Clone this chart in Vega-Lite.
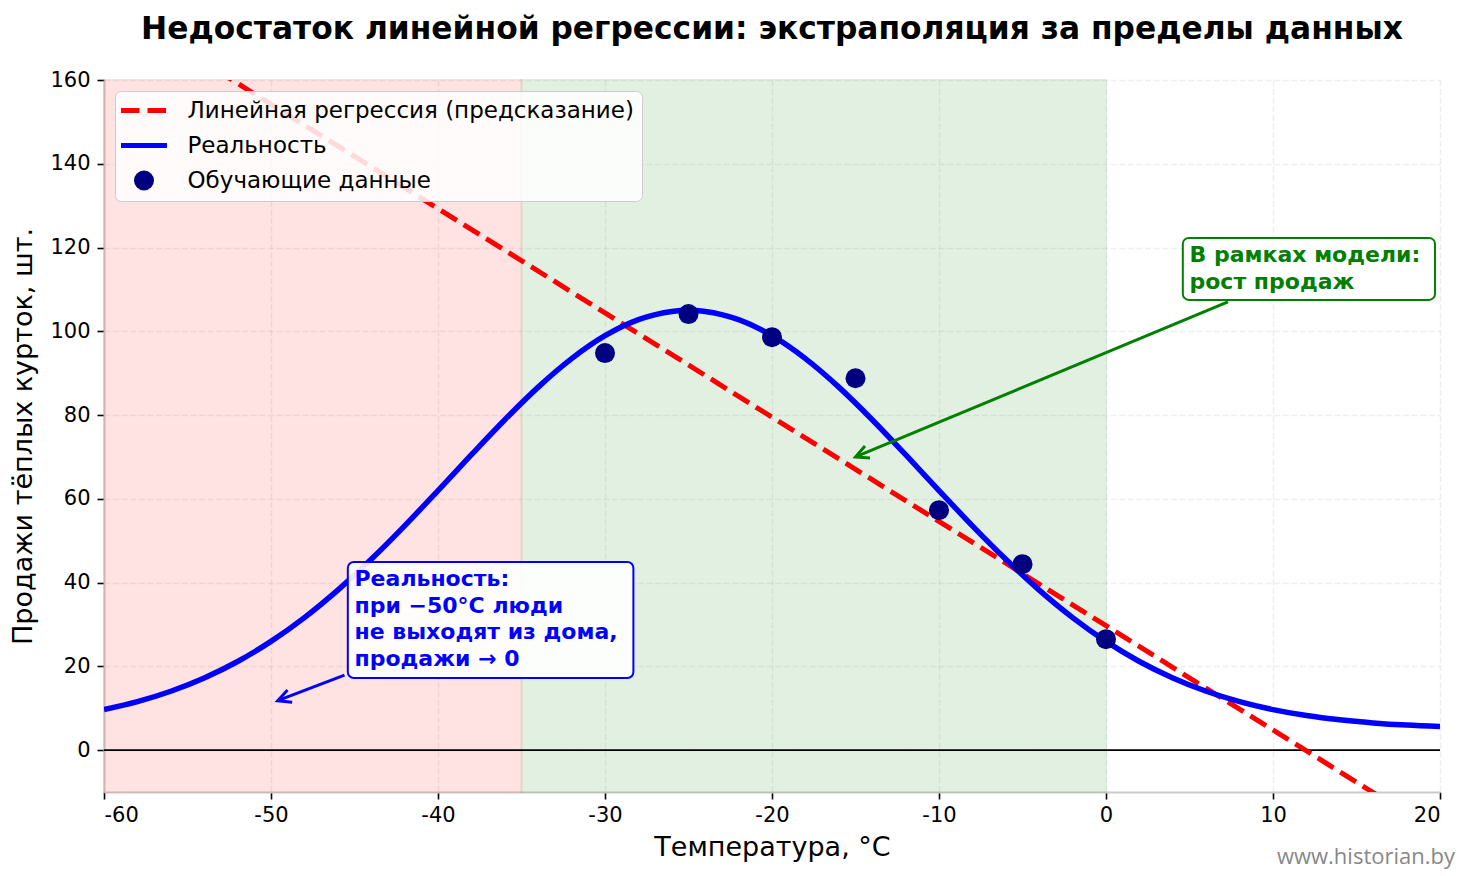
{
  "$schema": "https://vega.github.io/schema/vega-lite/v6.json",
  "autosize": {"type": "none"},
  "width": 1336,
  "height": 712,
  "padding": {"left": 104, "top": 80, "right": 27, "bottom": 84},
  "background": "white",
  "title": {
    "text": "Недостаток линейной регрессии: экстраполяция за пределы данных",
    "font": "DejaVu Sans",
    "fontSize": 31.3,
    "fontWeight": "bold",
    "color": "#000000",
    "anchor": "middle",
    "offset": 24
  },
  "config": {
    "view": {"stroke": null},
    "axis": {
      "labelFont": "DejaVu Sans",
      "titleFont": "DejaVu Sans",
      "labelFontSize": 21,
      "titleFontSize": 27,
      "titleFontWeight": "normal",
      "labelColor": "#000000",
      "titleColor": "#000000",
      "domainColor": "#cccccc",
      "domainWidth": 2,
      "tickColor": "#000000",
      "tickSize": 7,
      "tickWidth": 1.6,
      "grid": true,
      "gridColor": "#b0b0b0",
      "gridOpacity": 0.2,
      "gridWidth": 1.5,
      "gridDash": [6, 2.6]
    },
    "legend": {
      "labelFont": "DejaVu Sans",
      "labelFontSize": 23,
      "labelColor": "#000000",
      "labelLimit": 0
    }
  },
  "datasets": {
    "zones": [
      {"zone": "extrapolation", "from": -60, "to": -35},
      {"zone": "model", "from": -35, "to": 0}
    ],
    "regression": [
      {"t": -60, "sales": 179.1, "series": "Линейная регрессия (предсказание)"},
      {"t": -40, "sales": 129.3, "series": "Линейная регрессия (предсказание)"},
      {"t": -20, "sales": 79.5, "series": "Линейная регрессия (предсказание)"},
      {"t": 0, "sales": 29.7, "series": "Линейная регрессия (предсказание)"},
      {"t": 20, "sales": -20.1, "series": "Линейная регрессия (предсказание)"}
    ],
    "reality": [
      {"t": -60, "sales": 9.68, "series": "Реальность"},
      {"t": -58, "sales": 11.57, "series": "Реальность"},
      {"t": -56, "sales": 14.05, "series": "Реальность"},
      {"t": -54, "sales": 17.22, "series": "Реальность"},
      {"t": -52, "sales": 21.16, "series": "Реальность"},
      {"t": -50, "sales": 25.96, "series": "Реальность"},
      {"t": -48, "sales": 31.65, "series": "Реальность"},
      {"t": -46, "sales": 38.21, "series": "Реальность"},
      {"t": -44, "sales": 45.56, "series": "Реальность"},
      {"t": -42, "sales": 53.55, "series": "Реальность"},
      {"t": -40, "sales": 61.98, "series": "Реальность"},
      {"t": -38, "sales": 70.54, "series": "Реальность"},
      {"t": -36, "sales": 78.89, "series": "Реальность"},
      {"t": -34, "sales": 86.67, "series": "Реальность"},
      {"t": -32, "sales": 93.47, "series": "Реальность"},
      {"t": -30, "sales": 98.94, "series": "Реальность"},
      {"t": -28, "sales": 102.78, "series": "Реальность"},
      {"t": -26, "sales": 104.75, "series": "Реальность"},
      {"t": -25, "sales": 105.0, "series": "Реальность"},
      {"t": -24, "sales": 104.75, "series": "Реальность"},
      {"t": -22, "sales": 102.78, "series": "Реальность"},
      {"t": -20, "sales": 98.94, "series": "Реальность"},
      {"t": -18, "sales": 93.47, "series": "Реальность"},
      {"t": -16, "sales": 86.67, "series": "Реальность"},
      {"t": -14, "sales": 78.89, "series": "Реальность"},
      {"t": -12, "sales": 70.54, "series": "Реальность"},
      {"t": -10, "sales": 61.98, "series": "Реальность"},
      {"t": -8, "sales": 53.55, "series": "Реальность"},
      {"t": -6, "sales": 45.56, "series": "Реальность"},
      {"t": -4, "sales": 38.21, "series": "Реальность"},
      {"t": -2, "sales": 31.65, "series": "Реальность"},
      {"t": 0, "sales": 25.96, "series": "Реальность"},
      {"t": 2, "sales": 21.16, "series": "Реальность"},
      {"t": 4, "sales": 17.22, "series": "Реальность"},
      {"t": 6, "sales": 14.05, "series": "Реальность"},
      {"t": 8, "sales": 11.57, "series": "Реальность"},
      {"t": 10, "sales": 9.68, "series": "Реальность"},
      {"t": 12, "sales": 8.26, "series": "Реальность"},
      {"t": 14, "sales": 7.23, "series": "Реальность"},
      {"t": 16, "sales": 6.5, "series": "Реальность"},
      {"t": 18, "sales": 5.98, "series": "Реальность"},
      {"t": 20, "sales": 5.63, "series": "Реальность"}
    ],
    "training": [
      {"t": -30, "sales": 94.8, "series": "Обучающие данные"},
      {"t": -25, "sales": 104.1, "series": "Обучающие данные"},
      {"t": -20, "sales": 98.6, "series": "Обучающие данные"},
      {"t": -15, "sales": 88.8, "series": "Обучающие данные"},
      {"t": -10, "sales": 57.3, "series": "Обучающие данные"},
      {"t": -5, "sales": 44.4, "series": "Обучающие данные"},
      {"t": 0, "sales": 26.5, "series": "Обучающие данные"}
    ],
    "arrows": [
      {"note": "model", "t": 7.3, "sales": 107.0, "t2": -15.0, "sales2": 70.0},
      {"note": "reality", "t": -45.6, "sales": 17.9, "t2": -49.6, "sales2": 11.8}
    ],
    "single": [{}]
  },
  "layer": [
    {
      "data": {"name": "zones"},
      "transform": [{"filter": "datum.zone === 'extrapolation'"}],
      "mark": {"type": "rect", "fill": "#ff0000", "stroke": "#ff0000", "strokeWidth": 2, "opacity": 0.11},
      "encoding": {
        "x": {"field": "from", "type": "quantitative",
              "scale": {"domain": [-60, 20], "nice": false, "zero": false},
              "axis": {"values": [-60, -50, -40, -30, -20, -10, 0, 10, 20], "labelExpr": "'' + datum.value", "title": "Температура, °C", "labelPadding": 5, "titlePadding": 9}},
        "x2": {"field": "to"}
      }
    },
    {
      "data": {"name": "zones"},
      "transform": [{"filter": "datum.zone === 'model'"}],
      "mark": {"type": "rect", "fill": "#008000", "stroke": "#008000", "strokeWidth": 2, "opacity": 0.11},
      "encoding": {
        "x": {"field": "from", "type": "quantitative"},
        "x2": {"field": "to"}
      }
    },
    {
      "data": {"name": "single"},
      "mark": {"type": "rule", "color": "#000000", "strokeWidth": 1.6},
      "encoding": {
        "y": {"datum": 0, "type": "quantitative",
              "scale": {"domain": [-10, 160], "nice": false, "zero": false},
              "axis": {"values": [0, 20, 40, 60, 80, 100, 120, 140, 160], "labelExpr": "'' + datum.value", "title": "Продажи тёплых курток, шт.", "labelPadding": 7, "titlePadding": 12}}
      }
    },
    {
      "data": {"name": "regression"},
      "mark": {"type": "line", "strokeWidth": 5, "strokeDash": [18.5, 8], "clip": true},
      "encoding": {
        "x": {"field": "t", "type": "quantitative"},
        "y": {"field": "sales", "type": "quantitative"},
        "color": {
          "field": "series", "type": "nominal",
          "scale": {"domain": ["Линейная регрессия (предсказание)", "Реальность", "Обучающие данные"], "range": ["#ff0000", "#0000ff", "#000080"]},
          "legend": {
            "title": null,
            "orient": "top-left",
            "offset": 11,
            "fillColor": "rgba(255,255,255,0.85)",
            "strokeColor": "#cccccc",
            "cornerRadius": 6,
            "padding": 8,
            "rowPadding": 11,
            "symbolOffset": 9.5,
            "labelOffset": 32,
            "symbolSize": 400,
            "symbolStrokeWidth": 5,
            "encode": {
              "symbols": {
                "update": {
                  "shape": {"signal": "datum.value === 'Обучающие данные' ? 'circle' : 'M-2.3,0L2.3,0'"},
                  "size": {"value": 400},
                  "strokeDash": {"signal": "datum.value === 'Линейная регрессия (предсказание)' ? [18.5, 8] : [1, 0]"},
                  "fill": {"signal": "datum.value === 'Обучающие данные' ? '#000080' : 'transparent'"},
                  "stroke": {"signal": "datum.value === 'Обучающие данные' ? 'transparent' : (datum.value === 'Реальность' ? '#0000ff' : '#ff0000')"},
                  "strokeWidth": {"signal": "datum.value === 'Обучающие данные' ? 0 : 5"},
                  "opacity": {"value": 1}
                }
              }
            }
          }
        }
      }
    },
    {
      "data": {"name": "reality"},
      "mark": {"type": "line", "strokeWidth": 5.5, "interpolate": "monotone", "clip": true},
      "encoding": {
        "x": {"field": "t", "type": "quantitative"},
        "y": {"field": "sales", "type": "quantitative"},
        "color": {"field": "series", "type": "nominal"}
      }
    },
    {
      "data": {"name": "training"},
      "mark": {"type": "point", "filled": true, "size": 400, "opacity": 1},
      "encoding": {
        "x": {"field": "t", "type": "quantitative"},
        "y": {"field": "sales", "type": "quantitative"},
        "color": {"field": "series", "type": "nominal"}
      }
    },
    {
      "data": {"name": "arrows"},
      "transform": [{"filter": "datum.note === 'model'"}],
      "layer": [
        {
          "mark": {"type": "rule", "color": "#008000", "strokeWidth": 3},
          "encoding": {
            "x": {"field": "t", "type": "quantitative"},
            "y": {"field": "sales", "type": "quantitative"},
            "x2": {"field": "t2"},
            "y2": {"field": "sales2"}
          }
        },
        {
          "mark": {"type": "point", "shape": "M-1,-0.5L0,0L-1,0.5", "filled": false, "stroke": "#008000", "strokeWidth": 3, "size": 676, "angle": 157.4, "opacity": 1},
          "encoding": {
            "x": {"field": "t2", "type": "quantitative"},
            "y": {"field": "sales2", "type": "quantitative"}
          }
        }
      ]
    },
    {
      "data": {"name": "arrows"},
      "transform": [{"filter": "datum.note === 'reality'"}],
      "layer": [
        {
          "mark": {"type": "rule", "color": "#0000ff", "strokeWidth": 3},
          "encoding": {
            "x": {"field": "t", "type": "quantitative"},
            "y": {"field": "sales", "type": "quantitative"},
            "x2": {"field": "t2"},
            "y2": {"field": "sales2"}
          }
        },
        {
          "mark": {"type": "point", "shape": "M-1,-0.5L0,0L-1,0.5", "filled": false, "stroke": "#0000ff", "strokeWidth": 3, "size": 676, "angle": 159.2, "opacity": 1},
          "encoding": {
            "x": {"field": "t2", "type": "quantitative"},
            "y": {"field": "sales2", "type": "quantitative"}
          }
        }
      ]
    },
    {
      "data": {"name": "single"},
      "mark": {"type": "rect", "fill": "#ffffff", "fillOpacity": 0.9, "stroke": "#008000", "strokeWidth": 2, "cornerRadius": 6},
      "encoding": {
        "x": {"datum": 4.6, "type": "quantitative"},
        "x2": {"datum": 19.7},
        "y": {"datum": 122.3, "type": "quantitative"},
        "y2": {"datum": 107.5}
      }
    },
    {
      "data": {"name": "single"},
      "mark": {"type": "text", "align": "left", "baseline": "middle", "font": "DejaVu Sans", "fontSize": 22, "fontWeight": "bold", "lineHeight": 26.5, "color": "#008000"},
      "encoding": {
        "x": {"datum": 5, "type": "quantitative"},
        "y": {"datum": 118.2, "type": "quantitative"},
        "text": {"value": ["В рамках модели:", "рост продаж"]}
      }
    },
    {
      "data": {"name": "single"},
      "mark": {"type": "rect", "fill": "#ffffff", "fillOpacity": 0.9, "stroke": "#0000ff", "strokeWidth": 2, "cornerRadius": 6},
      "encoding": {
        "x": {"datum": -45.4, "type": "quantitative"},
        "x2": {"datum": -28.3},
        "y": {"datum": 44.9, "type": "quantitative"},
        "y2": {"datum": 17.2}
      }
    },
    {
      "data": {"name": "single"},
      "mark": {"type": "text", "align": "left", "baseline": "middle", "font": "DejaVu Sans", "fontSize": 22, "fontWeight": "bold", "lineHeight": 26.5, "color": "#0000ff"},
      "encoding": {
        "x": {"datum": -45, "type": "quantitative"},
        "y": {"datum": 40.8, "type": "quantitative"},
        "text": {"value": ["Реальность:", "при −50°C люди", "не выходят из дома,", "продажи → 0"]}
      }
    },
    {
      "data": {"name": "single"},
      "mark": {"type": "text", "align": "right", "baseline": "middle", "font": "Open Sans", "fontSize": 22, "color": "#888888", "dx": 15, "dy": 65, "clip": false},
      "encoding": {
        "x": {"datum": 20, "type": "quantitative"},
        "y": {"datum": -10, "type": "quantitative"},
        "text": {"value": "www.historian.by"}
      }
    }
  ]
}
